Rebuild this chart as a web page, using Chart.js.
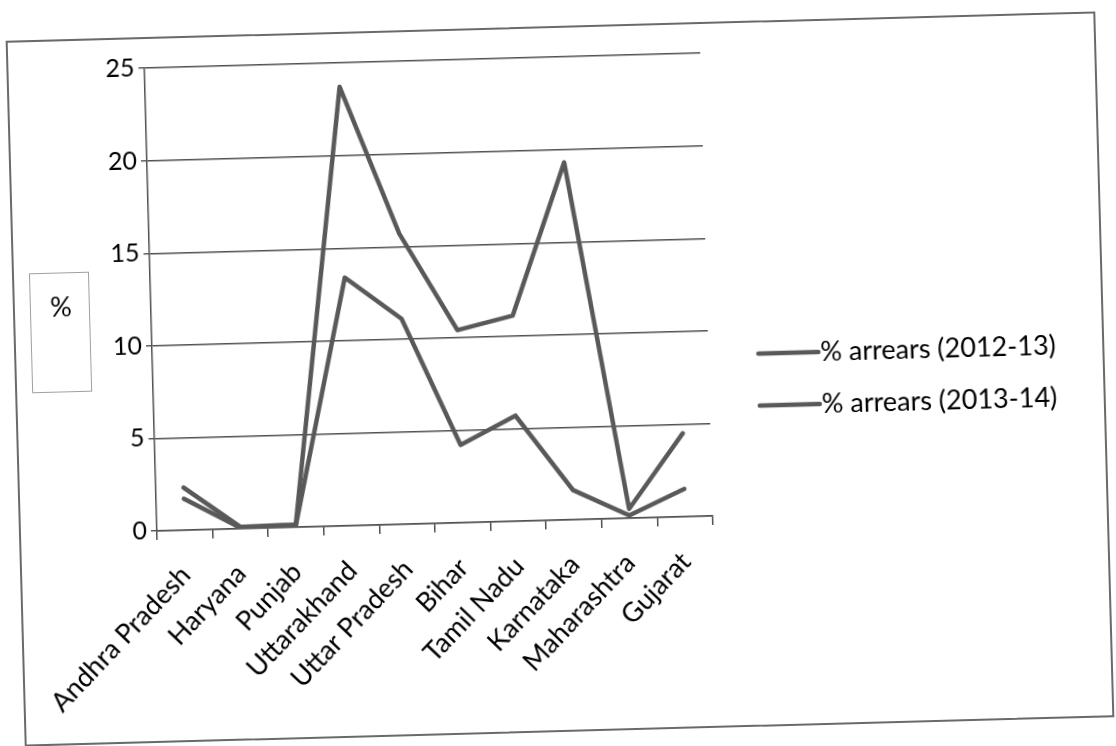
<!DOCTYPE html>
<html>
<head>
<meta charset="utf-8">
<title>% arrears by state</title>
<script src="https://cdn.jsdelivr.net/npm/chart.js@4.4.1/dist/chart.umd.min.js"></script>
<style>
  html, body { margin: 0; padding: 0; background: #ffffff; overflow: hidden; }
  body { width: 1116px; height: 746px; position: relative; }
  #frame {
    position: absolute; left: 15px; top: 26px;
    width: 1090px; height: 706px;
    box-sizing: border-box;
    border: 2px solid #6a6a6a;
    background: #ffffff;
    transform: rotate(-1.55deg);
    transform-origin: 50% 50%;
  }
  #chart { position: absolute; left: -2px; top: -2px; }
</style>
</head>
<body>
<div id="frame"><canvas id="chart" width="1090" height="706"></canvas></div>
<script>
// States along the category axis
const states = ['Andhra Pradesh', 'Haryana', 'Punjab', 'Uttarakhand', 'Uttar Pradesh',
                'Bihar', 'Tamil Nadu', 'Karnataka', 'Maharashtra', 'Gujarat'];

// Share of arrears (%) per state
const arrears2012_13 = [1.7, 0.05, 0.1, 13.4, 11.1, 4.2, 5.7, 1.6, 0.15, 1.5];
const arrears2013_14 = [2.3, 0.1, 0.15, 23.7, 15.7, 10.4, 11.1, 19.3, 0.5, 4.5];

const seriesLabels = ['% arrears (2012-13)', '% arrears (2013-14)'];
const yTicks = [0, 5, 10, 15, 20, 25];
const yTitle = '%';

const lineGrey = '#595959';
const inkColor = '#000000';
const fontFamily = 'Lato, "Open Sans", sans-serif';

// Boxed axis title on the left and the legend on the right
const decorations = {
  id: 'decorations',
  afterDraw(chart) {
    const ctx = chart.ctx;
    ctx.save();
    ctx.strokeStyle = '#a0a0a0';
    ctx.lineWidth = 1;
    ctx.strokeRect(17.5, 233.5, 59, 119);
    ctx.fillStyle = inkColor;
    ctx.font = '27px ' + fontFamily;
    ctx.textAlign = 'center';
    ctx.textBaseline = 'middle';
    ctx.fillText(yTitle, 48, 268);

    chart.data.datasets.forEach((ds, i) => {
      const y = 333 + i * 52;
      ctx.strokeStyle = ds.borderColor;
      ctx.lineWidth = 4.5;
      ctx.lineCap = 'round';
      ctx.beginPath();
      ctx.moveTo(744, y);
      ctx.lineTo(804, y);
      ctx.stroke();
      ctx.fillStyle = inkColor;
      ctx.textAlign = 'left';
      ctx.font = '27px ' + fontFamily;
      ctx.fillText(ds.label, 806, y);
    });
    ctx.restore();
  }
};

new Chart(document.getElementById('chart'), {
  type: 'line',
  data: {
    labels: states,
    datasets: [
      { label: seriesLabels[0], data: arrears2012_13, borderColor: lineGrey },
      { label: seriesLabels[1], data: arrears2013_14, borderColor: lineGrey }
    ]
  },
  options: {
    responsive: false,
    animation: false,
    layout: { padding: { top: 31, right: 396, bottom: 0, left: 0 } },
    elements: {
      line: { borderWidth: 4.5, tension: 0, borderJoinStyle: 'round', borderCapStyle: 'round', fill: false },
      point: { radius: 0, hoverRadius: 0 }
    },
    plugins: {
      legend: { display: false },
      tooltip: { enabled: false }
    },
    scales: {
      x: {
        type: 'category',
        offset: true,
        grid: { offset: true, drawOnChartArea: false, drawTicks: true, tickLength: 9, color: '#505050', lineWidth: 1.5 },
        border: { color: '#505050', width: 1.5 },
        ticks: {
          minRotation: 45, maxRotation: 45, autoSkip: false,
          color: inkColor, padding: 20,
          font: { family: fontFamily, size: 27 }
        },
        afterFit(scale) { scale.height = 212; }
      },
      y: {
        min: yTicks[0],
        max: yTicks[yTicks.length - 1],
        afterBuildTicks(scale) { scale.ticks = yTicks.map(v => ({ value: v })); },
        grid: { color: '#505050', lineWidth: 1.4, tickLength: 6 },
        border: { color: '#505050', width: 1.5 },
        ticks: { color: inkColor, padding: 4, font: { family: fontFamily, size: 25 } },
        afterFit(scale) { scale.width = 138; }
      }
    }
  },
  plugins: [decorations]
});
</script>
</body>
</html>
